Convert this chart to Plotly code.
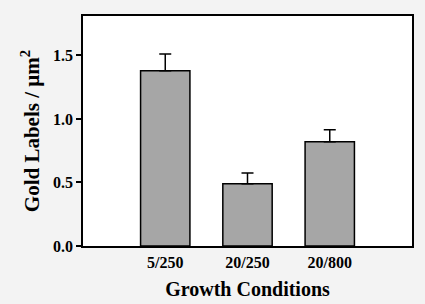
import plotly.graph_objects as go

categories = ["5/250", "20/250", "20/800"]
positions = [1, 2, 3]
values = [1.38, 0.49, 0.82]
errors = [0.13, 0.085, 0.095]
y_ticks = [0.0, 0.5, 1.0, 1.5]

font_family = "Liberation Serif, Times New Roman, serif"

fig = go.Figure()
fig.add_trace(go.Bar(
    x=positions, y=values, width=0.6,
    marker=dict(color="#a6a6a6", line=dict(color="#000000", width=1.5)),
    error_y=dict(type="data", array=errors, arrayminus=[0, 0, 0], symmetric=False,
                 color="#000000", thickness=1.5, width=6),
    showlegend=False,
))

fig.update_layout(
    width=425, height=304,
    margin=dict(l=83, r=13, t=16, b=58, autoexpand=False),
    paper_bgcolor="#f3f3f3", plot_bgcolor="#ffffff",
    font=dict(family=font_family, color="#000000"),
    xaxis=dict(
        range=[0, 4], tickmode="array", tickvals=positions, ticktext=[f"<b>{c}</b>" for c in categories],
        ticks="", ticklen=0, ticklabelstandoff=1, showline=True, linecolor="#000000", linewidth=1.5, mirror=True,
        showgrid=False, zeroline=False, tickfont=dict(size=16, family=font_family),
        title=dict(text="<b>Growth Conditions</b>", font=dict(size=20, family=font_family), standoff=12),
    ),
    yaxis=dict(
        range=[0, 1.81], tickmode="array", tickvals=y_ticks,
        ticktext=[f"<b>{v:.1f}</b>" for v in y_ticks],
        ticks="outside", ticklen=5, tickwidth=1.5, tickcolor="#000000",
        showline=True, linecolor="#000000", linewidth=1.5, mirror=True,
        showgrid=False, zeroline=False, tickfont=dict(size=16, family=font_family),
        title=dict(text="<b>Gold Labels / µm<sup>2</sup></b>", font=dict(size=21, family=font_family), standoff=8),
    ),
)

fig.write_html("out.html", config={"displayModeBar": False},
               post_script="document.body.style.margin='0';document.body.style.background='#f3f3f3';")
